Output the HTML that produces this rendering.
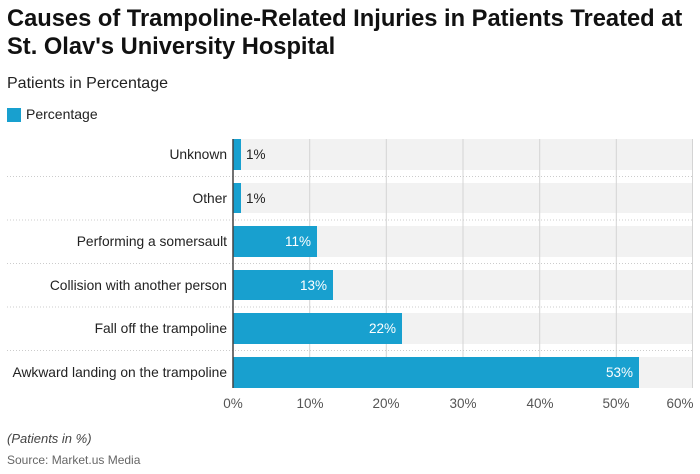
<!DOCTYPE html><html><head><style>
body{margin:0;width:700px;height:474px;background:#fff;font-family:"Liberation Sans",sans-serif;position:relative;overflow:hidden}
.a{position:absolute;white-space:nowrap}
</style></head><body>
<div class="a" style="left:7px;top:5px;font-size:23.7px;font-weight:bold;line-height:28px;color:#111">Causes of Trampoline-Related Injuries in Patients Treated at<br>St. Olav's University Hospital</div>
<div class="a" style="left:7px;top:75px;font-size:16px;color:#222">Patients in Percentage</div>
<div class="a" style="left:7px;top:108px;width:14px;height:14px;background:#18a0cf"></div>
<div class="a" style="left:26px;top:106px;font-size:14px;color:#222">Percentage</div>
<svg class="a" style="left:0;top:0" width="700" height="474">
<g fill="#f2f2f2">
<rect x="233" y="139" width="460" height="31"/><rect x="233" y="183" width="460" height="30"/>
<rect x="233" y="226" width="460" height="31"/><rect x="233" y="270" width="460" height="30"/>
<rect x="233" y="313" width="460" height="31"/><rect x="233" y="357" width="460" height="31"/>
</g>
<g stroke="#d4d4d4" stroke-width="1">
<line x1="309.7" y1="139" x2="309.7" y2="388"/><line x1="386.3" y1="139" x2="386.3" y2="388"/>
<line x1="463" y1="139" x2="463" y2="388"/><line x1="539.7" y1="139" x2="539.7" y2="388"/>
<line x1="616.3" y1="139" x2="616.3" y2="388"/><line x1="692.5" y1="139" x2="692.5" y2="388"/>
</g>
<g stroke="#ccc" stroke-dasharray="1,2">
<line x1="7" y1="176.5" x2="693" y2="176.5"/><line x1="7" y1="220" x2="693" y2="220"/>
<line x1="7" y1="263.5" x2="693" y2="263.5"/><line x1="7" y1="307" x2="693" y2="307"/>
<line x1="7" y1="350.5" x2="693" y2="350.5"/>
</g>
<g fill="#18a0cf">
<rect x="233" y="139" width="8" height="31"/><rect x="233" y="183" width="8" height="30"/>
<rect x="233" y="226" width="84" height="31"/><rect x="233" y="270" width="100" height="30"/>
<rect x="233" y="313" width="169" height="31"/><rect x="233" y="357" width="406" height="31"/>
</g>
<line x1="233" y1="139" x2="233" y2="388" stroke="#444" stroke-width="1.5"/>
<g font-size="13.8" fill="#222" text-anchor="end">
<text x="227" y="159">Unknown</text><text x="227" y="203">Other</text>
<text x="227" y="246">Performing a somersault</text><text x="227" y="290">Collision with another person</text>
<text x="227" y="333">Fall off the trampoline</text><text x="227" y="377">Awkward landing on the trampoline</text>
</g>
<g font-size="13.5">
<text x="246" y="159" fill="#222">1%</text><text x="246" y="203" fill="#222">1%</text>
<text x="311" y="246" fill="#fff" text-anchor="end">11%</text><text x="327" y="290" fill="#fff" text-anchor="end">13%</text>
<text x="396" y="333" fill="#fff" text-anchor="end">22%</text><text x="633" y="377" fill="#fff" text-anchor="end">53%</text>
</g>
<g font-size="13.5" fill="#555" text-anchor="middle">
<text x="233" y="408">0%</text><text x="310" y="408">10%</text><text x="386" y="408">20%</text>
<text x="463" y="408">30%</text><text x="540" y="408">40%</text><text x="616" y="408">50%</text><text x="680" y="408">60%</text>
</g>
</svg>
<div class="a" style="left:7px;top:431px;font-size:13px;font-style:italic;color:#444">(Patients in %)</div>
<div class="a" style="left:7px;top:453px;font-size:12px;color:#666">Source: Market.us Media</div>
</body></html>
